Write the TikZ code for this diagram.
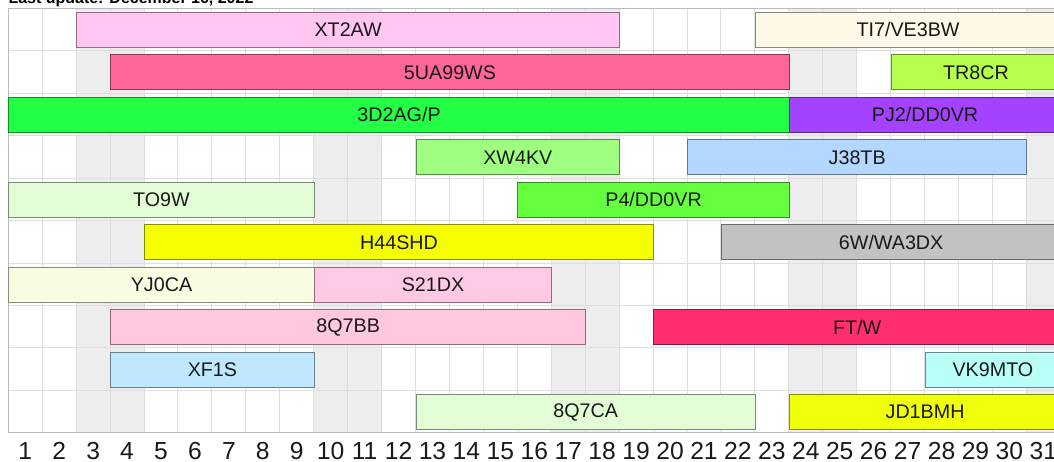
\documentclass[tikz,border=0pt]{standalone}
\usepackage{fontspec}
\setmainfont{Liberation Sans}
\usetikzlibrary{positioning}

\definecolor{xtpink}{HTML}{FFC6F2}
\definecolor{ticream}{HTML}{FDF8E8}
\definecolor{uapink}{HTML}{FF6699}
\definecolor{trlime}{HTML}{B6FF4C}
\definecolor{dgreen}{HTML}{22FF44}
\definecolor{pjpurple}{HTML}{A443FF}
\definecolor{xwgreen}{HTML}{9EFF80}
\definecolor{jblue}{HTML}{B3D7FF}
\definecolor{paleg}{HTML}{E2FDD5}
\definecolor{pgreen}{HTML}{66FF40}
\definecolor{hyellow}{HTML}{F5FF00}
\definecolor{wgray}{HTML}{C2C2C2}
\definecolor{ycream}{HTML}{F8FDE2}
\definecolor{spink}{HTML}{FFC8E4}
\definecolor{bbpink}{HTML}{FFC8DE}
\definecolor{ftred}{HTML}{FF2E6F}
\definecolor{xfblue}{HTML}{BFE8FF}
\definecolor{vkcyan}{HTML}{B8FFF8}
\definecolor{jdyellow}{HTML}{F0FF0A}

\newcommand{\dayw}{25.48pt}

\tikzset{
  callbar/.style={rectangle, draw=#1!55!black, fill=#1, line width=0.75pt,
    anchor=west, inner sep=0pt, minimum height=26.25pt,
    font=\fontsize{14.8}{16}\selectfont, text=black!90},
  weekend/.style={fill=black!7},
  gridline/.style={draw=black!13, line width=0.75pt},
  frame/.style={draw=black!27, line width=0.75pt},
  daynum/.style={anchor=base, inner sep=0pt, font=\fontsize{18.5}{20}\selectfont, text=black!90}
}

\begin{document}
\begin{tikzpicture}[x=\dayw, y=-31.875pt]
  \useasboundingbox (-0.2443,-0.1953) rectangle (30.814,10.675);

  % calendar grid
  \foreach \d in {3,4,10,11,17,18,24,25,31}
    \fill[weekend] (\d-1,0) rectangle (\d,10);
  \foreach \d in {0,...,31}
    \draw[gridline] (\d,0) -- (\d,10);
  \foreach \r in {0,...,10}
    \draw[gridline] (0,\r) -- (31,\r);
  \draw[frame] (0,0) rectangle (31,10);

  \node[anchor=base west, inner sep=0pt, font=\bfseries\fontsize{12}{14}\selectfont] (lastupd) at (0,-0.12) {Last update: December 16, 2022};

  % operations
  \node[callbar=xtpink, minimum width=16*\dayw] (xt2aw) at (2,0.51) {XT2AW};
  \node[callbar=ticream, minimum width=9*\dayw] (ti7) at (22,0.51) {TI7/VE3BW};

  \node[callbar=uapink, minimum width=20*\dayw] (fiveua) at (3,1.51) {5UA99WS};
  \node[callbar=trlime, minimum width=5*\dayw] (tr8cr) at (26,1.51) {TR8CR};

  \node[callbar=dgreen, minimum width=23*\dayw] (threed) at (0,2.51) {3D2AG/P};
  \node[callbar=pjpurple, minimum width=8*\dayw] (pj2) at (23,2.51) {PJ2/DD0VR};

  \node[callbar=xwgreen, minimum width=6*\dayw] (xw4kv) at (12,3.51) {XW4KV};
  \node[callbar=jblue, minimum width=10*\dayw] (j38tb) at (20,3.51) {J38TB};

  \node[callbar=paleg, minimum width=9*\dayw] (to9w) at (0,4.51) {TO9W};
  \node[callbar=pgreen, minimum width=8*\dayw] (p4) at (15,4.51) {P4/DD0VR};

  \node[callbar=hyellow, minimum width=15*\dayw] (h44shd) at (4,5.51) {H44SHD};
  \node[callbar=wgray, minimum width=10*\dayw] (sixw) at (21,5.51) {6W/WA3DX};

  \node[callbar=ycream, minimum width=9*\dayw] (yj0ca) at (0,6.51) {YJ0CA};
  \node[callbar=spink, minimum width=7*\dayw] (s21dx) at (9,6.51) {S21DX};

  \node[callbar=bbpink, minimum width=14*\dayw] (eightbb) at (3,7.51) {8Q7BB};
  \node[callbar=ftred, minimum width=12*\dayw] (ftw) at (19,7.51) {FT/W};

  \node[callbar=xfblue, minimum width=6*\dayw] (xf1s) at (3,8.51) {XF1S};
  \node[callbar=vkcyan, minimum width=4*\dayw] (vk9mto) at (27,8.51) {VK9MTO};

  \node[callbar=paleg, minimum width=10*\dayw] (eightca) at (12,9.51) {8Q7CA};
  \node[callbar=jdyellow, minimum width=8*\dayw] (jd1bmh) at (23,9.51) {JD1BMH};

  % day numbers
  \foreach \d in {1,...,31}
    \node[daynum] (day\d) at (\d-0.5,10.63) {\d};
\end{tikzpicture}
\end{document}
